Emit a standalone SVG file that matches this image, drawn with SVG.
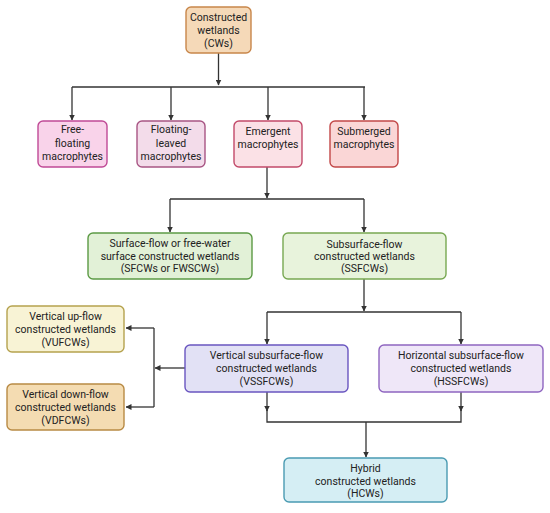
<svg xmlns="http://www.w3.org/2000/svg" width="550" height="513" viewBox="0 0 550 513">
<style>
.n rect{stroke-width:1.4}
.n text{font-family:Roboto,"Liberation Sans",sans-serif;font-size:10.5px;fill:#222;text-anchor:middle}
.c path{fill:none;stroke:#333;stroke-width:1.3}
.c path.a{marker-end:url(#ah)}
</style>
<defs>
<marker id="ah" markerWidth="6" markerHeight="6" refX="5.5" refY="3" orient="auto" markerUnits="userSpaceOnUse">
<path d="M0,0 L6,3 L0,6 z" fill="#333"/>
</marker>
</defs>
<rect width="550" height="513" fill="#fff"/>
<g class="c" id="connectors">
<path class="a" d="M218.5 53 V85"/>
<path d="M72 87 H365"/>
<path class="a" d="M72 87 V120"/>
<path class="a" d="M171 87 V120"/>
<path class="a" d="M268 87 V120"/>
<path class="a" d="M364 87 V120"/>
<path class="a" d="M267 167 V198"/>
<path d="M170 199 H364"/>
<path class="a" d="M170 199 V232"/>
<path class="a" d="M364 199 V232"/>
<path class="a" d="M364 279 V311"/>
<path d="M267 312 H461"/>
<path class="a" d="M267 312 V344"/>
<path class="a" d="M461 312 V344"/>
<path class="a" d="M185 368 H155"/>
<path d="M154 328 V407"/>
<path class="a" d="M154 328 H126"/>
<path class="a" d="M154 407 H126"/>
<path class="a" d="M267 392 V411"/>
<path class="a" d="M461 392 V411"/>
<path d="M267 410 V422 H461 V410"/>
<path class="a" d="M366 422 V457"/>
</g>
<g class="n" id="cws">
<rect x="186" y="7" width="65" height="46" rx="5" fill="#f5d9b8" stroke="#c8864a"/>
<text x="218.5" y="21">Constructed</text>
<text x="218.5" y="34">wetlands</text>
<text x="218.5" y="47">(CWs)</text>
</g>
<g class="n" id="free-floating">
<rect x="38" y="121" width="69" height="46" rx="5" fill="#f9d3ea" stroke="#c04a96"/>
<text x="72.5" y="133">Free-</text>
<text x="72.5" y="146.5">floating</text>
<text x="72.5" y="160">macrophytes</text>
</g>
<g class="n" id="floating-leaved">
<rect x="137" y="121" width="68" height="46" rx="5" fill="#f3dcea" stroke="#a85584"/>
<text x="171" y="133">Floating-</text>
<text x="171" y="146.5">leaved</text>
<text x="171" y="160">macrophytes</text>
</g>
<g class="n" id="emergent">
<rect x="234" y="121" width="68" height="46" rx="5" fill="#fbe1e6" stroke="#c24a6a"/>
<text x="268" y="135">Emergent</text>
<text x="268" y="148">macrophytes</text>
</g>
<g class="n" id="submerged">
<rect x="330" y="121" width="68" height="46" rx="5" fill="#fad6d6" stroke="#c24848"/>
<text x="364" y="135">Submerged</text>
<text x="364" y="148">macrophytes</text>
</g>
<g class="n" id="sfcws">
<rect x="88" y="233" width="164" height="46" rx="5" fill="#e2f1d7" stroke="#5c9a45"/>
<text x="170" y="247">Surface-flow or free-water</text>
<text x="170" y="259.5">surface constructed wetlands</text>
<text x="170" y="272">(SFCWs or FWSCWs)</text>
</g>
<g class="n" id="ssfcws">
<rect x="283" y="233" width="163" height="46" rx="5" fill="#e8f3dc" stroke="#78a852"/>
<text x="364.5" y="248">Subsurface-flow</text>
<text x="364.5" y="260">constructed wetlands</text>
<text x="364.5" y="272">(SSFCWs)</text>
</g>
<g class="n" id="vufcws">
<rect x="7" y="306" width="117" height="46" rx="5" fill="#f8f3d5" stroke="#b5a24e"/>
<text x="65.5" y="320">Vertical up-flow</text>
<text x="65.5" y="333">constructed wetlands</text>
<text x="65.5" y="346">(VUFCWs)</text>
</g>
<g class="n" id="vdfcws">
<rect x="7" y="384" width="117" height="46" rx="5" fill="#f4dcb2" stroke="#b88a44"/>
<text x="65.5" y="398">Vertical down-flow</text>
<text x="65.5" y="411">constructed wetlands</text>
<text x="65.5" y="424">(VDFCWs)</text>
</g>
<g class="n" id="vssfcws">
<rect x="185" y="345" width="163" height="47" rx="5" fill="#e2e1f5" stroke="#6a56c0"/>
<text x="266.5" y="359">Vertical subsurface-flow</text>
<text x="266.5" y="372">constructed wetlands</text>
<text x="266.5" y="384.5">(VSSFCWs)</text>
</g>
<g class="n" id="hssfcws">
<rect x="379" y="345" width="164" height="47" rx="5" fill="#efe7f8" stroke="#8f65c0"/>
<text x="461" y="359">Horizontal subsurface-flow</text>
<text x="461" y="372">constructed wetlands</text>
<text x="461" y="384.5">(HSSFCWs)</text>
</g>
<g class="n" id="hcws">
<rect x="284" y="458" width="163" height="44" rx="5" fill="#d5eef4" stroke="#4a9bb2"/>
<text x="365.5" y="472">Hybrid</text>
<text x="365.5" y="484.5">constructed wetlands</text>
<text x="365.5" y="497">(HCWs)</text>
</g>
</svg>
